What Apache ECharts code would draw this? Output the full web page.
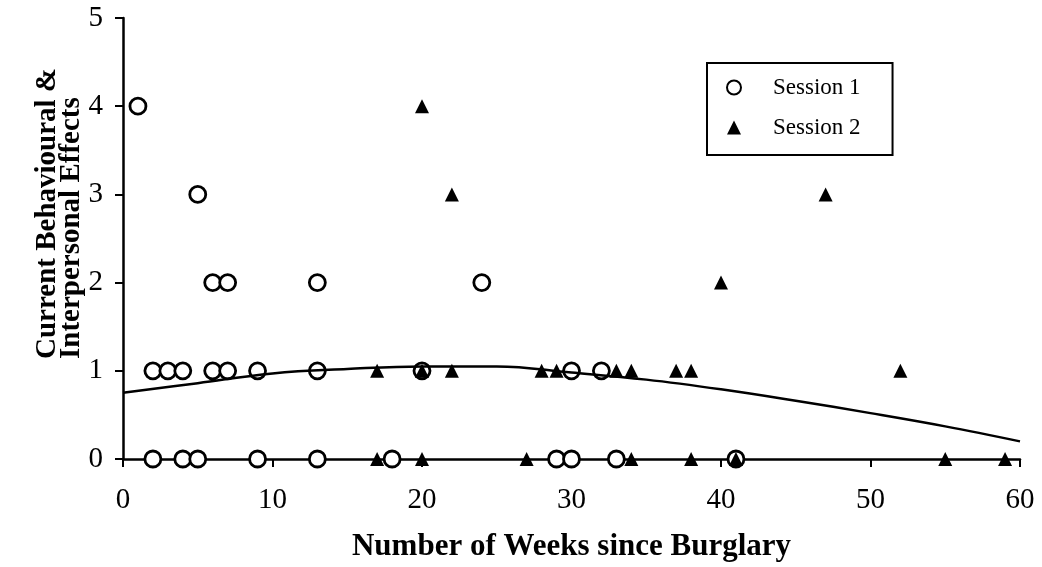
<!DOCTYPE html>
<html>
<head>
<meta charset="utf-8">
<script src="https://cdn.jsdelivr.net/npm/echarts@6/dist/echarts.min.js"></script>
<style>
  html, body { margin: 0; padding: 0; background: #fff; }
  #chart { width: 1042px; height: 567px; }
</style>
</head>
<body>
<div id="chart"></div>
<script>
// ---- Data ----
const session1Weeks  = [1, 5, 6, 7, 13, 24, 2, 3, 4, 6, 7, 9, 13, 20, 30, 32, 2, 4, 5, 9, 13, 18, 29, 30, 33, 41];
const session1Effect = [4, 3, 2, 2, 2, 2, 1, 1, 1, 1, 1, 1, 1, 1, 1, 1, 0, 0, 0, 0, 0, 0, 0, 0, 0, 0];

const session2Weeks  = [20, 22, 47, 40, 17, 20, 22, 28, 29, 33, 34, 37, 38, 52, 17, 20, 27, 34, 38, 41, 55, 59];
const session2Effect = [4, 3, 3, 2, 1, 1, 1, 1, 1, 1, 1, 1, 1, 1, 0, 0, 0, 0, 0, 0, 0, 0];

const trendWeeks  = [0, 5, 10, 15, 20, 25, 30, 35, 40, 45, 50, 55, 60];
const trendEffect = [0.75, 0.86, 0.97, 1.02, 1.05, 1.05, 0.98, 0.9, 0.79, 0.66, 0.52, 0.37, 0.2];

const xTicks = [0, 10, 20, 30, 40, 50, 60];
const yTicks = [0, 1, 2, 3, 4, 5];

const seriesNames = ['Session 1', 'Session 2'];
const xTitle = 'Number of Weeks since Burglary';
const yTitleLines = ['Current Behavioural &', 'Interpersonal Effects'];

// ---- Build chart ----
const zip = (a, b) => a.map((v, i) => [v, b[i]]);
const serif = '"Liberation Serif", "DejaVu Serif", serif';

const chart = echarts.init(document.getElementById('chart'), null, { renderer: 'canvas' });

chart.setOption({
  backgroundColor: '#ffffff',
  animation: false,
  grid: { left: 123, right: 22, top: 18, bottom: 108, outerBoundsMode: 'none' },
  legend: {
    data: seriesNames,
    orient: 'vertical',
    left: 707,
    top: 63,
    itemWidth: 14,
    itemHeight: 14,
    itemGap: 17,
    padding: [13, 32, 16, 19],
    borderColor: '#000',
    borderWidth: 2,
    backgroundColor: '#fff',
    textStyle: { fontFamily: serif, fontSize: 23, color: '#000', padding: [0, 0, 0, 27] }
  },
  xAxis: {
    type: 'value',
    min: xTicks[0],
    max: xTicks[xTicks.length - 1],
    interval: 10,
    splitLine: { show: false },
    axisLine: { lineStyle: { color: '#000', width: 2.5 } },
    axisTick: { show: true, length: 8, lineStyle: { color: '#000', width: 2 } },
    axisLabel: { fontFamily: serif, fontSize: 29, color: '#000', margin: 27 },
    name: xTitle,
    nameLocation: 'middle',
    nameGap: 72,
    nameMoveOverlap: false,
    nameTextStyle: { fontFamily: serif, fontSize: 31, fontWeight: 'bold', color: '#000' }
  },
  yAxis: {
    type: 'value',
    min: yTicks[0],
    max: yTicks[yTicks.length - 1],
    interval: 1,
    splitLine: { show: false },
    axisLine: { lineStyle: { color: '#000', width: 2.5 } },
    axisTick: { show: true, length: 8, lineStyle: { color: '#000', width: 2 } },
    axisLabel: { fontFamily: serif, fontSize: 29, color: '#000', margin: 20 },
    name: yTitleLines.map(s => '{t|' + s + '}').join('\n'),
    nameLocation: 'middle',
    nameRotate: 90,
    nameGap: 39,
    nameMoveOverlap: false,
    nameTextStyle: {
      padding: [0, 0, 0, 50],
      rich: {
        t: { fontFamily: serif, fontSize: 29, fontWeight: 'bold', color: '#000', align: 'left', lineHeight: 24 }
      }
    }
  },
  series: [
    {
      name: seriesNames[0],
      type: 'scatter',
      symbol: 'circle',
      symbolSize: 16,
      itemStyle: { color: '#fff', borderColor: '#000', borderWidth: 2.8, opacity: 1 },
      z: 2,
      data: zip(session1Weeks, session1Effect)
    },
    {
      name: seriesNames[1],
      type: 'scatter',
      symbol: 'triangle',
      symbolSize: 14,
      itemStyle: { color: '#000', opacity: 1 },
      z: 4,
      data: zip(session2Weeks, session2Effect)
    },
    {
      name: 'Trend',
      type: 'line',
      smooth: 0.4,
      showSymbol: false,
      symbol: 'none',
      lineStyle: { color: '#000', width: 2.5 },
      z: 3,
      data: zip(trendWeeks, trendEffect)
    }
  ]
});
</script>
</body>
</html>
